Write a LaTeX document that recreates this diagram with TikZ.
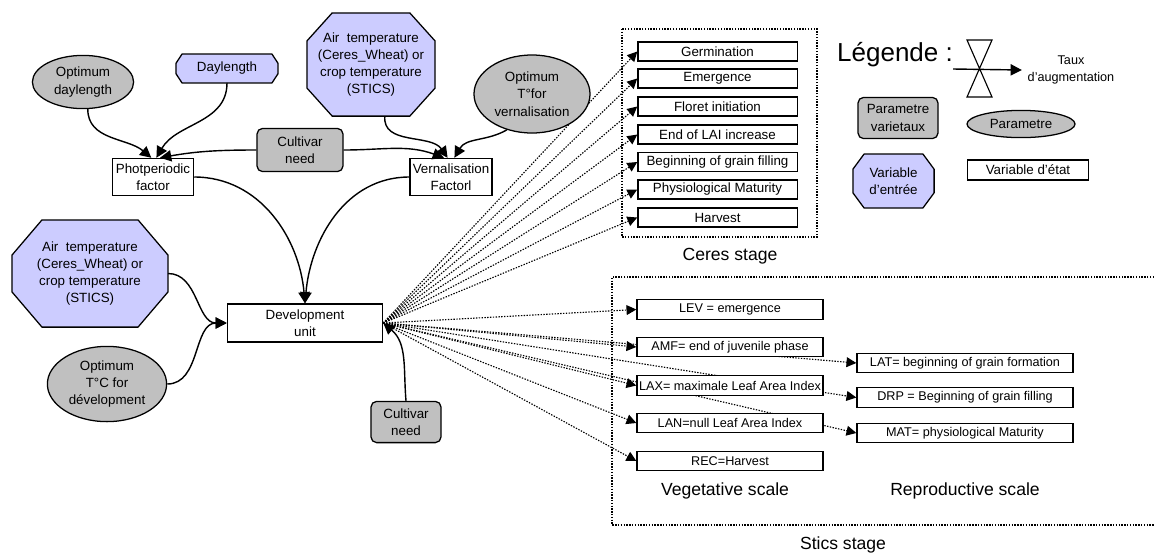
\documentclass[tikz,border=0pt]{standalone}
\usepackage{fontspec}
\setmainfont{Liberation Sans}
\usetikzlibrary{arrows.meta,positioning,shapes.geometric,backgrounds}
\definecolor{pargray}{RGB}{192,192,192}
\definecolor{inblue}{RGB}{204,204,255}

\begin{document}
\begin{tikzpicture}[x=0.025cm,y=0.025cm,>={Triangle[length=8pt,width=8pt]},
  txt/.style={font=\fontsize{9.5}{12.3}\selectfont,align=center,inner sep=0pt},
  statevar/.style={txt,draw,fill=white,line width=0.9pt},
  param/.style={txt,ellipse,draw,fill=pargray,line width=0.9pt},
  cultivar/.style={txt,draw,fill=pargray,rounded corners=4pt,line width=0.9pt},
  inputvar/.style={txt,outer sep=0pt},
  inshape/.style={draw,fill=inblue,line width=0.9pt,line join=round},
  flow/.style={->,line width=1pt},
  dotflow/.style={-{Triangle[length=7pt,width=7pt]},line width=0.8pt,dash pattern=on 1pt off 1pt},
  frame/.style={line width=0.9pt,dash pattern=on 1pt off 1pt},
  title/.style={font=\fontsize{12.5}{14}\selectfont}]
\useasboundingbox (0,0) rectangle (1154,-555);

\node[param,minimum width=2.53cm,minimum height=1.33cm] (optday) at (83,-82) {Optimum\\daylength};
\node[inputvar,minimum width=2.55cm,minimum height=0.72cm] (daylen) at (227,-68.5) {Daylength};
\node[inputvar,minimum width=3.2cm,minimum height=2.58cm] (airtop) at (371,-64.5) {Air \ temperature\\(Ceres\_Wheat) or\\crop temperature\\(STICS)};
\node[param,minimum width=2.9cm,minimum height=1.95cm] (optvern) at (532,-94) {Optimum\\T\textdegree for\\vernalisation};
\node[cultivar,minimum width=2.15cm,minimum height=1.08cm] (cult1) at (300,-150) {Cultivar\\need};
\node[statevar,minimum width=2.03cm,minimum height=0.93cm] (photo) at (153,-177) {Photperiodic\\factor};
\node[statevar,minimum width=2.05cm,minimum height=0.93cm] (vern) at (451,-177) {Vernalisation\\Factorl};
\node[inputvar,minimum width=3.9cm,minimum height=2.68cm] (airleft) at (90,-273.5) {Air \ temperature\\(Ceres\_Wheat) or\\crop temperature\\(STICS)};
\node[param,minimum width=2.98cm,minimum height=1.88cm] (optdev) at (107,-384) {Optimum\\T\textdegree C for\\d\'evelopment};
\node[statevar,minimum width=3.88cm,minimum height=0.95cm] (dev) at (305,-323) {Development\\unit};
\node[cultivar,minimum width=1.75cm,minimum height=1.03cm] (cult2) at (406,-422) {Cultivar\\need};

\draw[flow] (optday.-80) to[out=-90,in=140] (photo.95);
\draw[flow] (daylen.south) to[out=-90,in=60] (photo.80);
\draw[flow] (cult1.west) to[out=180,in=10] (photo.70);
\draw[flow] (cult1.east) to[out=0,in=160] (vern.110);
\draw[flow] (airtop.-75) to[out=-95,in=125] (vern.100);
\draw[flow] (optvern.-125) to[out=-150,in=60] (vern.80);
\draw[flow] (photo.east) to[out=0,in=95] (dev.north);
\draw[flow] (vern.west) to[out=180,in=85] (dev.north);
\draw[flow] (airleft.east) to[out=0,in=180] (dev.west);
\draw[flow] (optdev.east) to[out=0,in=180] (dev.west);
\draw[flow] (cult2.north) to[out=95,in=-40] (dev.east);

\draw[frame] (622,-29) rectangle (817,-237);
\foreach \n/\y/\t in {1/51.5/Germination,2/78.5/Emergence,3/106.5/Floret initiation,4/134.5/End of LAI increase,5/162/Beginning of grain filling,6/189.5/Physiological Maturity,7/217.5/Harvest}
  \node[statevar,minimum width=3.98cm,minimum height=0.48cm] (c\n) at (717.5,-\y) {\t};
\node[title] (ceres) at (730,-256) {Ceres stage};

\draw[frame] (1154,-277) -- (612,-277) -- (612,-525) -- (1154,-525);
\foreach \n/\y/\t in {1/309.5/LEV = emergence,2/347/AMF= end of juvenile phase,3/385.5/LAX= maximale Leaf Area Index,4/423/LAN=null Leaf Area Index,5/461/REC=Harvest}
  \node[statevar,font=\fontsize{9}{11}\selectfont,minimum width=4.65cm,minimum height=0.49cm] (v\n) at (730,-\y) {\t};
\foreach \n/\y/\t in {1/363/LAT= beginning of grain formation,2/397.5/DRP = Beginning of grain filling,3/433/MAT= physiological Maturity}
  \node[statevar,font=\fontsize{9}{11}\selectfont,minimum width=5.4cm,minimum height=0.49cm] (r\n) at (965,-\y) {\t};
\node[title] (vegscale) at (725,-491) {Vegetative scale};
\node[title] (repscale) at (965,-491) {Reproductive scale};
\node[title] (stics) at (843,-545) {Stics stage};

\node[font=\fontsize{18.5}{20}\selectfont,inner sep=0pt] (lege) at (895,-55) {L\'egende :};
\draw[line width=0.8pt] (967,-40) -- (992,-40) -- (967,-97) -- (992,-97) -- cycle;
\node[txt,font=\fontsize{9}{12}\selectfont] (taux) at (1071,-70) {Taux\\d'augmentation};
\draw[flow] (lege.east |- 0,-69) -- ([xshift=-4pt]taux.west);
\node[cultivar,minimum width=2cm,minimum height=1.03cm] (parvar) at (898,-118) {Parametre\\varietaux};
\node[param,minimum width=2.7cm,minimum height=0.68cm] (parlg) at (1021,-124) {Parametre};
\node[inputvar,minimum width=2.03cm,minimum height=1.35cm] (varent) at (893.5,-181) {Variable\\d'entr\'ee};
\node[statevar,minimum width=3.03cm,minimum height=0.5cm] (varetat) at (1028,-170) {Variable d'\'etat};

\begin{scope}[on background layer]
\foreach \o/\a/\b in {daylen/0.15cm/0.23cm,airtop/0.63cm/0.7cm,airleft/0.75cm/0.88cm,varent/0.28cm/0.38cm}
  \draw[inshape] ([xshift=\a]\o.north west) -- ([xshift=-\a]\o.north east) -- ([yshift=-\b]\o.north east) -- ([yshift=\b]\o.south east) -- ([xshift=-\a]\o.south east) -- ([xshift=\a]\o.south west) -- ([yshift=\b]\o.south west) -- ([yshift=-\b]\o.north west) -- cycle;
\foreach \n in {1,...,7} \draw[dotflow] (dev.east) -- (c\n.west);
\foreach \n in {1,...,5} \draw[dotflow] (dev.east) -- (v\n.west);
\foreach \n in {1,...,3} \draw[dotflow] (dev.east) -- (r\n.west);
\end{scope}
\end{tikzpicture}
\end{document}
